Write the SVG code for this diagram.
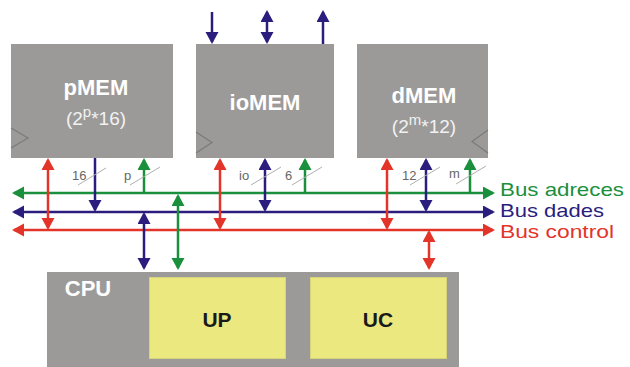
<svg xmlns="http://www.w3.org/2000/svg" width="630" height="367" viewBox="0 0 630 367">
<style>
.box{fill:#9b9a99;}
.clk{fill:none;stroke:#7a7a7a;stroke-width:1.2;}
.title{font-family:"Liberation Sans",Arial,sans-serif;font-weight:bold;font-size:22px;fill:#ffffff;text-anchor:middle;}
.sub{font-family:"Liberation Sans",Arial,sans-serif;font-size:19px;fill:#f2f2f2;text-anchor:middle;}
.unit{fill:#ebe880;stroke:#d6d37a;stroke-width:1;}
.ulbl{font-family:"Liberation Sans",Arial,sans-serif;font-weight:bold;font-size:21px;fill:#1a1a1a;text-anchor:middle;}
.num{font-family:"Liberation Sans",Arial,sans-serif;font-size:13px;fill:#666;}
.slash{stroke:#b0b0b0;stroke-width:1;}
.g{stroke:#1a8f3c;stroke-width:2.5;fill:none;}
.b{stroke:#2b1d7e;stroke-width:2.5;fill:none;}
.r{stroke:#e3342a;stroke-width:2.5;fill:none;}
.busl{font-family:"Liberation Sans",Arial,sans-serif;font-size:19px;}
</style>
<defs>
<marker id="ag" markerUnits="userSpaceOnUse" markerWidth="14" markerHeight="14" refX="10" refY="6.5" orient="auto-start-reverse"><path d="M0,0 L12,6.5 L0,13 z" fill="#1a8f3c"/></marker>
<marker id="ab" markerUnits="userSpaceOnUse" markerWidth="14" markerHeight="14" refX="10" refY="6.5" orient="auto-start-reverse"><path d="M0,0 L12,6.5 L0,13 z" fill="#2b1d7e"/></marker>
<marker id="ar" markerUnits="userSpaceOnUse" markerWidth="14" markerHeight="14" refX="10" refY="6.5" orient="auto-start-reverse"><path d="M0,0 L12,6.5 L0,13 z" fill="#e3342a"/></marker>
</defs>

<g id="pMEM">
<rect class="box" x="11" y="44" width="162" height="114"/>
<path class="clk" d="M11,128 L28,138 L11,148"/>
<text class="title" x="96" y="95">pMEM</text>
<text class="sub" x="96" y="125">(2<tspan dy="-8" font-size="15">p</tspan><tspan dy="8">*16)</tspan></text>
</g>

<g id="ioMEM">
<rect class="box" x="196" y="44" width="138" height="114"/>
<path class="clk" d="M196,132 L212,142.5 L196,153"/>
<text class="title" x="265" y="110" font-size="20">ioMEM</text>
</g>

<g id="dMEM">
<rect class="box" x="357" y="44" width="131" height="114"/>
<path class="clk" d="M488,130 L472,141.5 L488,153"/>
<text class="title" x="424" y="103">dMEM</text>
<text class="sub" x="424" y="133">(2<tspan dy="-8" font-size="15">m</tspan><tspan dy="8">*12)</tspan></text>
</g>

<g id="CPU">
<rect class="box" x="47" y="272" width="412" height="95"/>
<text class="title" x="88" y="296" font-size="23">CPU</text>
<g id="UP">
<rect class="unit" x="149.5" y="277.5" width="136" height="81"/>
<text class="ulbl" x="217" y="327">UP</text>
</g>
<g id="UC">
<rect class="unit" x="310.5" y="277.5" width="136" height="81"/>
<text class="ulbl" x="378" y="327">UC</text>
</g>
</g>

<g id="connectors">
<!-- buses -->
<line class="g" x1="14" y1="193" x2="493" y2="193" marker-start="url(#ag)" marker-end="url(#ag)"/>
<line class="b" x1="14" y1="212" x2="493" y2="212" marker-start="url(#ab)" marker-end="url(#ab)"/>
<line class="r" x1="14" y1="230" x2="493" y2="230" marker-start="url(#ar)" marker-end="url(#ar)"/>
<text class="busl" x="500" y="196" fill="#1a8f3c" textLength="124" lengthAdjust="spacingAndGlyphs">Bus adreces</text>
<text class="busl" x="500" y="217" fill="#2b1d7e" textLength="104" lengthAdjust="spacingAndGlyphs">Bus dades</text>
<text class="busl" x="500" y="238" fill="#e3342a" textLength="114" lengthAdjust="spacingAndGlyphs">Bus control</text>

<!-- ioMEM top -->
<line class="b" x1="212" y1="12" x2="212" y2="42" marker-end="url(#ab)"/>
<line class="b" x1="267" y1="12" x2="267" y2="42" marker-start="url(#ab)" marker-end="url(#ab)"/>
<line class="b" x1="323" y1="44" x2="323" y2="12" marker-end="url(#ab)"/>

<!-- pMEM -->
<line class="r" x1="48" y1="160" x2="48" y2="228" marker-start="url(#ar)" marker-end="url(#ar)"/>
<line class="b" x1="95" y1="158" x2="95" y2="210" marker-end="url(#ab)"/>
<line class="g" x1="144" y1="193" x2="144" y2="160" marker-end="url(#ag)"/>
<line class="slash" x1="78" y1="185" x2="106" y2="168"/>
<line class="slash" x1="130" y1="185" x2="160" y2="167"/>
<text class="num" x="72" y="180">16</text>
<text class="num" x="124" y="180">p</text>

<!-- ioMEM -->
<line class="r" x1="220" y1="160" x2="220" y2="228" marker-start="url(#ar)" marker-end="url(#ar)"/>
<line class="b" x1="265" y1="160" x2="265" y2="210" marker-start="url(#ab)" marker-end="url(#ab)"/>
<line class="g" x1="305" y1="193" x2="305" y2="160" marker-end="url(#ag)"/>
<line class="slash" x1="251" y1="185" x2="281" y2="167"/>
<line class="slash" x1="292" y1="185" x2="322" y2="167"/>
<text class="num" x="239" y="180">io</text>
<text class="num" x="285" y="180">6</text>

<!-- dMEM -->
<line class="r" x1="387" y1="160" x2="387" y2="228" marker-start="url(#ar)" marker-end="url(#ar)"/>
<line class="b" x1="426" y1="160" x2="426" y2="210" marker-start="url(#ab)" marker-end="url(#ab)"/>
<line class="g" x1="470" y1="193" x2="470" y2="160" marker-end="url(#ag)"/>
<line class="slash" x1="410" y1="185" x2="440" y2="167"/>
<line class="slash" x1="456" y1="184" x2="486" y2="166"/>
<text class="num" x="402" y="180">12</text>
<text class="num" x="449" y="178">m</text>

<!-- CPU -->
<line class="b" x1="144" y1="214" x2="144" y2="268" marker-start="url(#ab)" marker-end="url(#ab)"/>
<line class="g" x1="178" y1="196" x2="178" y2="268" marker-start="url(#ag)" marker-end="url(#ag)"/>
<line class="r" x1="429" y1="232" x2="429" y2="268" marker-start="url(#ar)" marker-end="url(#ar)"/>
</g>
</svg>
